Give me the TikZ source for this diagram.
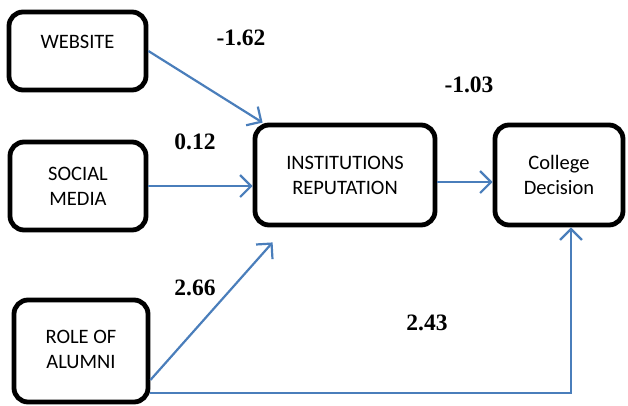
\documentclass[tikz,border=0pt]{standalone}
\usepackage{fontspec}
\setmainfont{Liberation Serif}
\newfontfamily\boxfont{Carlito}
\usepackage{xcolor}
\usetikzlibrary{arrows.meta}
\definecolor{linkblue}{RGB}{74,126,187}
\tikzset{
  factor/.style={draw=black, line width=4.8pt, rounded corners=14pt, align=center, inner sep=0pt, font={\boxfont\fontsize{20.5}{25}\selectfont}},
  weight/.style={font={\bfseries\fontsize{23.5}{28}\selectfont}},
  link/.style={linkblue, line width=2.2pt, -{Straight Barb[length=11pt,width=22pt]}}
}
\begin{document}
\begin{tikzpicture}[x=1pt,y=-1pt]
        	\useasboundingbox (0,0) rectangle (628,405);
        	\node[factor, minimum width=137pt, minimum height=78pt] (W) at (77.5, 51) {WEBSITE\\[-7pt]~};
        	\node[factor, minimum width=136pt, minimum height=88pt] (S) at (78, 186) {SOCIAL\\MEDIA};
        	\node[factor, minimum width=134pt, minimum height=102pt] (R) at (81, 351) {~\\[-14pt]ROLE OF\\ALUMNI};
        	\node[factor, minimum width=180pt, minimum height=100pt] (I) at (345, 175) {INSTITUTIONS\\REPUTATION};
        	\node[factor, minimum width=128pt, minimum height=100pt] (C) at (559, 175) {College\\Decision};
        	\node[weight] (L1) at (241, 38) {-1.62};
        	\node[weight] (L2) at (195, 142) {0.12};
        	\node[weight] (L3) at (469, 85) {-1.03};
        	\node[weight] (L4) at (195, 288) {2.66};
        	\node[weight] (L5) at (427, 323) {2.43};
        	\draw[link] (W.east) -- ([xshift=10pt]I.north west);
        	\draw[link] (S.east) -- (S.east -| I.west);
        	\draw[link] ([yshift=-7pt]I.east) -- ([yshift=-7pt]C.west);
        	\draw[link] ([yshift=-29pt]R.east) -- ([shift={(20pt,-15pt)}]I.south west);
        	\draw[link] ([yshift=-42pt]R.east) -| ([xshift=12pt]C.south);
\end{tikzpicture}
\end{document}
